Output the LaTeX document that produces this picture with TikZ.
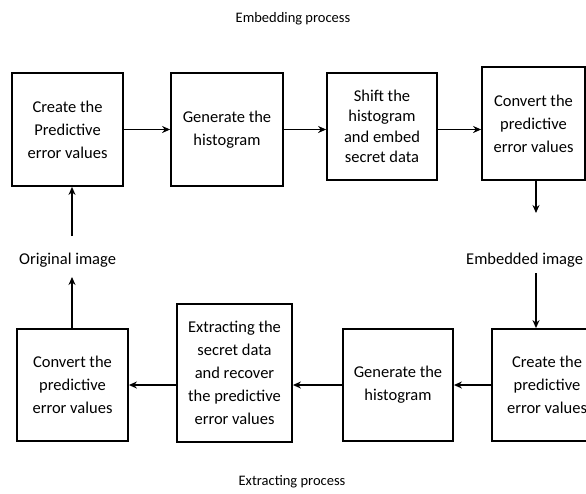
\documentclass[tikz,border=0pt]{standalone}
\usepackage{fontspec}
\setmainfont{Carlito}
\usetikzlibrary{arrows.meta}
\begin{document}
\begin{tikzpicture}[x=1pt,y=-1pt,
  box/.style={draw=black,line width=1.8pt,align=center,inner sep=0pt,
    font=\fontsize{16.5}{23}\selectfont},
  lbl/.style={font=\fontsize{16.5}{23}\selectfont,inner sep=0pt},
  ttl/.style={font=\fontsize{14.5}{18}\selectfont,inner sep=0pt},
  arr/.style={line width=1.8pt,-{Stealth[length=8pt,width=7pt]}},
  ln/.style={line width=1.8pt}]
\useasboundingbox (0,0) rectangle (586,493);
\clip (0,0) rectangle (586,493);
\node[ttl] (t1) at (293,19) {Embedding process};
\node[ttl] (t2) at (292,482) {Extracting process};
% top row
\node[box,minimum width=111pt,minimum height=113pt] (b1) at (67.5,129.5) {Create the\\Predictive\\error values};
\node[box,minimum width=112pt,minimum height=113pt] (b2) at (227,129.5) {Generate the\\histogram};
\node[box,minimum width=110pt,minimum height=107pt,font=\fontsize{16.5}{20.5}\selectfont] (b3) at (382,126.5) {Shift the\\histogram\\and embed\\secret data};
\node[box,minimum width=103pt,minimum height=113pt] (b4) at (533.5,123.5) {Convert the\\predictive\\error values};
% bottom row
\node[box,minimum width=110pt,minimum height=112pt] (b5) at (547,385) {Create the\\predictive\\error values};
\node[box,minimum width=110pt,minimum height=112pt] (b6) at (398,385) {Generate the\\histogram};
\node[box,minimum width=115pt,minimum height=138pt] (b7) at (234.5,373) {Extracting the\\secret data\\and recover\\the predictive\\error values};
\node[box,minimum width=111pt,minimum height=112pt] (b8) at (72.5,385) {Convert the\\predictive\\error values};
% side labels
\node[lbl,anchor=west] (orig) at (19,260) {Original image};
\node[lbl,anchor=west] (emb) at (466,260) {Embedded image};
\coordinate (e1) at (536,213);
\coordinate (e2) at (536,273);
\coordinate (o1) at (72,277);
\coordinate (o2) at (72,236);
% connectors
\draw[arr] (b1.east |- b1) -- (b2.west |- b1);
\draw[arr] (b2.east |- b1) -- (b3.west |- b1);
\draw[arr] (b3.east |- b1) -- (b4.west |- b1);
\draw[arr] (b4.south -| e1) -- (e1);
\draw[arr] (e2) -- (b5.north -| e2);
\draw[arr] (b5.west |- b6) -- (b6.east |- b6);
\draw[arr] (b6.west |- b6) -- (b7.east |- b6);
\draw[arr] (b7.west |- b6) -- (b8.east |- b6);
\draw[arr] (b8.north -| o1) -- (o1);
\draw[arr] (o2) -- (b1.south -| o2);
\end{tikzpicture}
\end{document}
